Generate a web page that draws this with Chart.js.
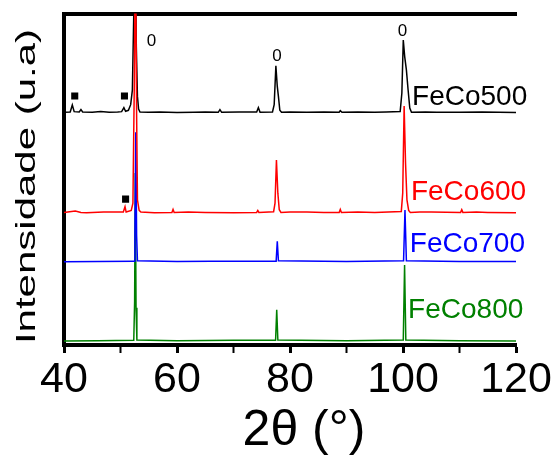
<!DOCTYPE html>
<html>
<head>
<meta charset="utf-8">
<script src="https://cdn.jsdelivr.net/npm/chart.js@4.4.0/dist/chart.umd.min.js"></script>
<style>
  html, body { margin: 0; padding: 0; background: #fff; }
  canvas { display: block; }
</style>
</head>
<body>
<canvas id="xrd" width="553" height="455"></canvas>
<script>
// ---- Diffractogram data (2θ in degrees, intensity in arbitrary units) ----
const sampleNames = ['FeCo500', 'FeCo600', 'FeCo700', 'FeCo800'];
// vertical stacking offset of each pattern
const offsets = [70.0, 39.8, 25.1, 1.2];

const theta500 = [40, 41.1, 41.47, 41.8, 42.7, 43.0, 43.3, 45, 46.5, 48, 49.5, 50.2, 50.6, 50.9, 51.4, 51.8, 52.1, 52.35, 52.55, 52.8, 53.0, 53.2, 53.45, 55, 57, 60, 63, 65, 67.3, 67.6, 67.9, 71, 74.1, 74.4, 74.7, 76.9, 77.2, 77.5, 77.75, 77.95, 78.2, 78.5, 80, 83, 86, 88.7, 88.9, 89.2, 92, 95, 97, 99.5, 99.8, 100.05, 100.3, 100.6, 100.9, 101.2, 101.5, 104, 106, 110, 114, 117, 120];
const counts500 = [0.2, 0.3, 2.4, 0.4, 0.3, 1.0, 0.3, 0.2, 0.4, 0.2, 0.3, 0.4, 1.6, 0.5, 0.8, 2.5, 6.9, 30, 75, 20, 5, 1.2, 0.3, 0.2, 0.3, 0.1, 0.2, 0.3, 0.2, 1.0, 0.2, 0.3, 0.3, 1.6, 0.2, 0.3, 2.5, 14.2, 8, 5, 0.8, 0.2, 0.3, 0.2, 0.3, 0.2, 0.7, 0.2, 0.3, 0.2, 0.3, 0.4, 6, 22, 17, 13, 7, 1.5, 0.2, 0.3, 0.2, 0.2, 0.3, 0.2, 0.1];

const theta600 = [40, 41, 42, 43, 44, 47, 50.5, 50.8, 51.0, 51.9, 52.2, 52.45, 52.65, 52.85, 53.0, 53.3, 53.6, 56, 59.1, 59.3, 59.5, 62, 65, 70, 74.1, 74.3, 74.5, 77.1, 77.35, 77.6, 77.85, 78.1, 78.4, 80, 83, 86, 88.7, 88.9, 89.1, 92, 95, 99.7, 99.95, 100.2, 100.45, 100.7, 101.0, 101.3, 103, 105, 110.2, 110.4, 110.6, 113, 115, 120];
const counts600 = [0.2, 0.4, 0.6, 0.2, 0.1, 0.3, 0.3, 1.9, 0.3, 0.8, 3, 40, 85, 30, 4, 0.8, 0.3, 0.1, 0.2, 1.1, 0.2, 0.3, 0.2, 0.1, 0.2, 0.8, 0.2, 0.4, 3, 16, 6, 1, 0.2, 0.3, 0.3, 0.2, 0.2, 1.1, 0.2, 0.3, 0.2, 0.5, 6, 32.3, 15, 4, 0.8, 0.2, 0.3, 0.3, 0.2, 1.0, 0.2, 0.3, 0.2, 0.1];

const theta700 = [40, 46, 52.4, 52.55, 52.7, 52.85, 53.0, 60, 66, 77.55, 77.75, 77.95, 90, 100.1, 100.35, 100.6, 110, 120];
const counts700 = [0, 0.1, 0.2, 8, 39.1, 8, 0.3, 0.1, 0.2, 0.2, 6.2, 0.3, 0.1, 0.3, 15.6, 0.3, 0.1, 0.1];

const theta800 = [40, 46, 52.35, 52.5, 52.62, 52.75, 52.9, 60, 70, 77.45, 77.65, 77.85, 90, 100.05, 100.28, 100.5, 110, 120];
const counts800 = [0, 0.1, 0.2, 12, 50.7, 10, 0.3, 0.1, 0.2, 0.2, 9.4, 0.3, 0.1, 0.3, 22.9, 0.3, 0.1, 0];

// secondary-phase markers (■)
const impurityTheta = [41.9, 50.7, 50.9];
const impurityLevel = [75.1, 75.1, 44.0];

const xTickLabels = [40, 60, 80, 100, 120];

// ---- Styling ----
const FONT = '"Liberation Sans", Arial, Helvetica, sans-serif';
const seriesColors = ['#000000', '#ff0000', '#0000ff', '#008000'];
const markerColor = '#000000';

// label anchors in data units
const nameAnchors = [
  { x: 101.6, y: 72.4 },
  { x: 101.4, y: 43.7 },
  { x: 101.2, y: 28.1 },
  { x: 100.9, y: 8.2 }
];
const reflectionAnchors = [
  { x: 55.5, y: 91.7, text: '0' },
  { x: 77.7, y: 87.2, text: '0' },
  { x: 99.9, y: 94.7, text: '0' }
];

const thetas = [theta500, theta600, theta700, theta800];
const counts = [counts500, counts600, counts700, counts800];
const drawOrder = [4, 1, 2, 3];

const datasets = sampleNames.map((name, i) => ({
  label: name,
  data: thetas[i].map((t, k) => ({ x: t, y: counts[i][k] + offsets[i] })),
  borderColor: seriesColors[i],
  backgroundColor: seriesColors[i],
  borderWidth: 1.5,
  pointRadius: 0,
  tension: 0,
  fill: false,
  order: drawOrder[i]
}));

datasets.push({
  type: 'scatter',
  label: 'markers',
  data: impurityTheta.map((t, k) => ({ x: t, y: impurityLevel[k] })),
  pointStyle: 'rect',
  pointRadius: 5,
  pointBorderWidth: 0,
  pointBackgroundColor: markerColor,
  pointBorderColor: markerColor,
  showLine: false,
  order: 0
});

// text layer: sample names, reflection marks and axis titles
const textLayer = {
  id: 'textLayer',
  afterDraw(chart) {
    const { ctx, scales: { x, y } } = chart;
    ctx.save();
    ctx.textAlign = 'left';
    ctx.textBaseline = 'alphabetic';
    ctx.font = '28px ' + FONT;
    sampleNames.forEach((name, i) => {
      ctx.fillStyle = seriesColors[i];
      ctx.fillText(name, x.getPixelForValue(nameAnchors[i].x), y.getPixelForValue(nameAnchors[i].y));
    });

    ctx.fillStyle = '#000';
    ctx.font = '17px ' + FONT;
    ctx.textAlign = 'center';
    ctx.textBaseline = 'middle';
    reflectionAnchors.forEach(a => {
      ctx.fillText(a.text, x.getPixelForValue(a.x), y.getPixelForValue(a.y));
    });

    // x axis title
    ctx.font = '50px ' + FONT;
    ctx.textAlign = 'center';
    ctx.textBaseline = 'alphabetic';
    ctx.fillText('2\u03B8 (\u00B0)', 304, 445);

    // y axis title (stretched along its length)
    ctx.translate(35, 186.5);
    ctx.rotate(-Math.PI / 2);
    ctx.scale(1.5, 1);
    ctx.font = '28px ' + FONT;
    ctx.fillText('Intensidade (u.a)', 0, 0);
    ctx.restore();
  }
};

new Chart(document.getElementById('xrd'), {
  type: 'line',
  data: { datasets },
  options: {
    responsive: false,
    animation: false,
    devicePixelRatio: 1,
    layout: { padding: { top: 13.5, right: 37, left: 0, bottom: 0 } },
    plugins: { legend: { display: false }, tooltip: { enabled: false } },
    scales: {
      x: {
        type: 'linear',
        position: 'bottom',
        min: 40,
        max: 120,
        z: 1,
        ticks: {
          stepSize: 10,
          autoSkip: false,
          maxRotation: 0,
          padding: 1,
          color: '#000',
          font: { family: FONT, size: 43 },
          callback: v => (xTickLabels.includes(v) ? String(v) : '')
        },
        grid: {
          drawOnChartArea: false,
          drawTicks: true,
          tickLength: 8,
          tickColor: '#000',
          tickWidth: c => (c.tick && c.tick.value % 20 === 0 ? 3 : 2)
        },
        border: { display: true, width: 4, color: '#000' },
        afterFit: s => { s.height = 110; s.paddingLeft = 0; s.paddingRight = 0; }
      },
      xTop: {
        type: 'linear',
        position: 'top',
        min: 40,
        max: 120,
        z: 1,
        ticks: { display: false },
        grid: { drawOnChartArea: false, drawTicks: false },
        border: { display: true, width: 4, color: '#000' },
        afterFit: s => { s.height = 0; s.paddingLeft = 0; s.paddingRight = 0; }
      },
      y: {
        min: 0,
        max: 100,
        z: 1,
        ticks: { display: false },
        grid: { drawOnChartArea: false, drawTicks: false },
        border: { display: true, width: 4, color: '#000' },
        afterFit: s => { s.width = 64; s.paddingTop = 0; s.paddingBottom = 0; }
      }
    }
  },
  plugins: [textLayer]
});
</script>
</body>
</html>
